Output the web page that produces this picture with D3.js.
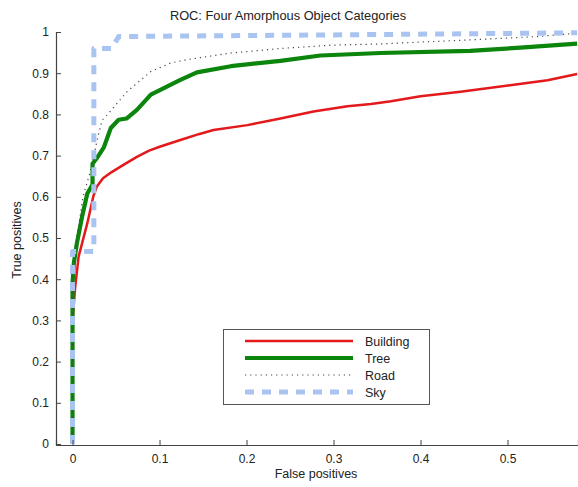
<!DOCTYPE html>
<html>
<head>
<meta charset="utf-8">
<script src="https://cdn.jsdelivr.net/npm/d3@7"></script>
<style>
  body { margin: 0; background: #fff; }
  svg text { font-family: "Liberation Sans", Arial, sans-serif; fill: #222; }
</style>
</head>
<body>
<svg id="chart" width="578" height="487"></svg>
<script>
// curve points (false positive rate, true positive rate)
var buildingFpr = [0, 0, 0.003, 0.007, 0.017, 0.024, 0.028, 0.035, 0.045, 0.058, 0.074, 0.088, 0.101, 0.124, 0.145, 0.162, 0.201, 0.239, 0.277, 0.316, 0.343, 0.366, 0.4, 0.446, 0.503, 0.546, 0.58];
var buildingTpr = [0, 0.3, 0.38, 0.455, 0.536, 0.602, 0.625, 0.645, 0.66, 0.677, 0.697, 0.712, 0.722, 0.738, 0.752, 0.762, 0.774, 0.79, 0.807, 0.82, 0.825, 0.832, 0.844, 0.855, 0.871, 0.883, 0.898];

var treeFpr = [0, 0, 0.0015, 0.005, 0.011, 0.017, 0.023, 0.023, 0.028, 0.036, 0.044, 0.053, 0.062, 0.074, 0.09, 0.109, 0.124, 0.143, 0.182, 0.239, 0.285, 0.354, 0.457, 0.515, 0.58];
var treeTpr = [0, 0.39, 0.439, 0.487, 0.552, 0.608, 0.63, 0.68, 0.694, 0.72, 0.767, 0.787, 0.79, 0.811, 0.848, 0.868, 0.884, 0.902, 0.917, 0.93, 0.943, 0.949, 0.954, 0.962, 0.972];

var roadFpr = [0, 0, 0.005, 0.012, 0.021, 0.028, 0.034, 0.04, 0.063, 0.09, 0.113, 0.132, 0.182, 0.239, 0.297, 0.354, 0.457, 0.534, 0.58];
var roadTpr = [0, 0.4, 0.5, 0.6, 0.665, 0.735, 0.786, 0.799, 0.856, 0.904, 0.925, 0.933, 0.949, 0.96, 0.968, 0.971, 0.981, 0.989, 0.997];

var skyFpr = [0, 0, 0.0245, 0.0245, 0.045, 0.053, 0.3, 0.58];
var skyTpr = [0, 0.467, 0.467, 0.96, 0.96, 0.989, 0.993, 0.998];

var seriesNames = ["Building", "Tree", "Road", "Sky"];
var xTicks = [0, 0.1, 0.2, 0.3, 0.4, 0.5];
var yTicks = [0, 0.1, 0.2, 0.3, 0.4, 0.5, 0.6, 0.7, 0.8, 0.9, 1];

var styles = {
  Building: { color: "#e3191c", width: 2.5, dash: null },
  Tree: { color: "#0b850b", width: 4.2, dash: null },
  Road: { color: "#444", width: 1.2, dash: "1.2,4" },
  Sky: { color: "#a9c4f0", width: 5, dash: "9,8" }
};

function zipPts(xs, ys) {
  return xs.map(function(d, i) { return [d, ys[i]]; });
}
var series = [
  { name: "Building", pts: zipPts(buildingFpr, buildingTpr) },
  { name: "Tree", pts: zipPts(treeFpr, treeTpr) },
  { name: "Road", pts: zipPts(roadFpr, roadTpr) },
  { name: "Sky", pts: zipPts(skyFpr, skyTpr) }
];

var svg = d3.select("#chart");
var plotL = 56, plotR = 578, plotT = 32, plotB = 445;

var x = d3.scaleLinear().domain([-0.019, 0.581]).range([plotL, plotR]);
var y = d3.scaleLinear().domain([0, 1]).range([plotB - 1, plotT]);

svg.append("clipPath").attr("id", "plotclip")
  .append("rect").attr("x", plotL).attr("y", 0).attr("width", plotR - plotL).attr("height", plotB);

var line = d3.line().x(function(d) { return x(d[0]); }).y(function(d) { return y(d[1]); });

var g = svg.append("g").attr("clip-path", "url(#plotclip)");
series.forEach(function(s) {
  var st = styles[s.name];
  g.append("path")
    .datum(s.pts)
    .attr("d", line)
    .attr("fill", "none")
    .attr("stroke", st.color)
    .attr("stroke-width", st.width)
    .attr("stroke-linejoin", "round")
    .attr("stroke-dasharray", st.dash);
});

// axes, ticks point inward like matlab
var xAxis = d3.axisBottom(x).tickValues(xTicks).tickSize(-5).tickPadding(9)
  .tickFormat(function(d) { return d === 0 ? "0" : d3.format(".1f")(d); });
var yAxis = d3.axisLeft(y).tickValues(yTicks).tickSize(-5).tickPadding(7)
  .tickFormat(function(d) { return d === 0 ? "0" : (d === 1 ? "1" : d3.format(".1f")(d)); });

var gx = svg.append("g").attr("transform", "translate(0," + plotB + ")").call(xAxis);
var gy = svg.append("g").attr("transform", "translate(" + plotL + ",0)").call(yAxis);
[gx, gy].forEach(function(a) {
  a.select(".domain").attr("stroke", "#444").attr("stroke-width", 1.2);
  a.selectAll(".tick line").attr("stroke", "#444");
  a.selectAll(".tick text").attr("font-size", 12).attr("fill", "#222")
    .style("font-family", "Liberation Sans, Arial, sans-serif");
});

svg.append("text").attr("x", 288).attr("y", 20).attr("text-anchor", "middle")
  .attr("font-size", 12.8).text("ROC: Four Amorphous Object Categories");
svg.append("text").attr("x", 316).attr("y", 478).attr("text-anchor", "middle")
  .attr("font-size", 12.5).text("False positives");
svg.append("text").attr("transform", "translate(21,240) rotate(-90)").attr("text-anchor", "middle")
  .attr("font-size", 12.5).text("True positives");

// legend
var lg = svg.append("g");
lg.append("rect").attr("x", 223.5).attr("y", 329.5).attr("width", 206).attr("height", 75)
  .attr("fill", "#fff").attr("stroke", "#555").attr("stroke-width", 1);
seriesNames.forEach(function(name, i) {
  var st = styles[name];
  var yy = 341 + i * 17;
  lg.append("line").attr("x1", 245).attr("x2", 353).attr("y1", yy).attr("y2", yy)
    .attr("stroke", st.color).attr("stroke-width", st.width).attr("stroke-dasharray", st.dash);
  lg.append("text").attr("x", 365).attr("y", yy + 4.5).attr("font-size", 12.5).text(name);
});
</script>
</body>
</html>
